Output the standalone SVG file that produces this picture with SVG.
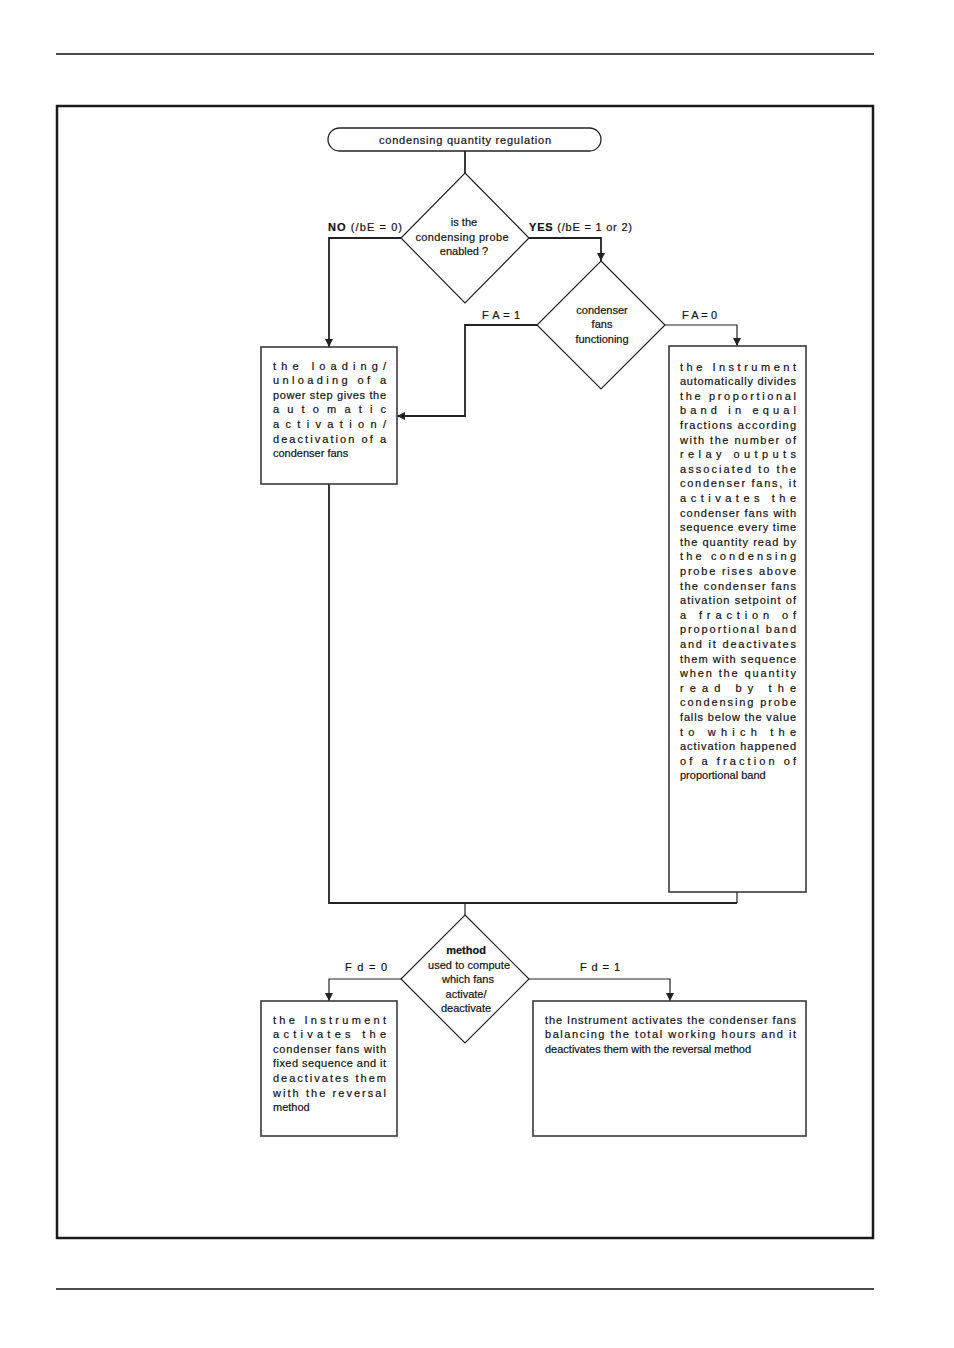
<svg xmlns="http://www.w3.org/2000/svg" width="954" height="1348" viewBox="0 0 954 1348">
<defs>
<marker id="arr" markerUnits="userSpaceOnUse" markerWidth="9" markerHeight="8" refX="8" refY="4" orient="auto">
<path d="M0,0 L8,4 L0,8 z" fill="#222"/>
</marker>
<style>
text{font-family:"Liberation Sans","DejaVu Sans",sans-serif;font-size:11px;fill:#111;stroke:#111;stroke-width:0.2}
.c{text-anchor:middle}
.b{font-weight:bold}
.box{fill:#fff;stroke:#3a3a3a;stroke-width:1.6}
.dia{fill:#fff;stroke:#222;stroke-width:1.2}
.ln{fill:none;stroke:#222;stroke-width:1.8}
.thin{fill:none;stroke:#222;stroke-width:1.2}
.lbl{font-size:11px}
</style>
</defs>
<rect width="954" height="1348" fill="#fff"/>
<line x1="56" y1="54" x2="874" y2="54" stroke="#111" stroke-width="1.5"/>
<line x1="56" y1="1289" x2="874" y2="1289" stroke="#111" stroke-width="1.5"/>
<rect x="57" y="106" width="816" height="1132" fill="none" stroke="#1a1a1a" stroke-width="2.5"/>

<g id="connectors">
<path class="ln" d="M465,151 V173"/>
<path class="ln" d="M401,238 H329 V347" marker-end="url(#arr)"/>
<path class="ln" d="M529,238 H601 V261" marker-end="url(#arr)"/>
<path class="ln" d="M537,325 H465 V416 H397" marker-end="url(#arr)"/>
<path class="thin" d="M665,325 H737 V346" marker-end="url(#arr)"/>
<path class="ln" d="M329,484 V903 H737"/>
<path class="thin" d="M737,892 V903"/>
<path class="thin" d="M465,903 V915"/>
<path class="thin" d="M401,979 H329 V1001" marker-end="url(#arr)"/>
<path class="thin" d="M529,979 H670 V1001" marker-end="url(#arr)"/>
<text class="lbl" x="328" y="231" textLength="74"><tspan class="b">NO</tspan> (/bE = 0)</text>
<text class="lbl" x="529" y="231" textLength="103"><tspan class="b">YES</tspan> (/bE = 1 or 2)</text>
<text class="lbl" x="482" y="319" textLength="38">F A = 1</text>
<text class="lbl" x="682" y="319" textLength="35">F A = 0</text>
<text class="lbl" x="345" y="971" textLength="42">F d = 0</text>
<text class="lbl" x="580" y="971" textLength="40">F d = 1</text>
</g>

<g id="start">
<rect x="328" y="128" width="273" height="23" rx="11.5" ry="11.5" fill="#fff" stroke="#222" stroke-width="1.3"/>
<text class="c" x="465" y="144" textLength="172">condensing quantity regulation</text>
</g>

<g id="d1">
<polygon class="dia" points="465,173 529,238 465,303 401,238"/>
<text class="c" x="464" y="226">is the</text>
<text class="c" x="462" y="241" textLength="93">condensing probe</text>
<text class="c" x="464" y="255">enabled ?</text>
</g>

<g id="d2">
<polygon class="dia" points="601,261 665,325 601,389 537,325"/>
<text class="c" x="602" y="314">condenser</text>
<text class="c" x="602" y="328">fans</text>
<text class="c" x="602" y="343">functioning</text>
</g>

<g id="boxL">
<rect class="box" x="261" y="347" width="136" height="137"/>
<text x="273" y="369.5" textLength="113">the loading/</text>
<text x="273" y="384.1" textLength="113">unloading of a</text>
<text x="273" y="398.7" textLength="113">power step gives the</text>
<text x="273" y="413.3" textLength="113">automatic</text>
<text x="273" y="427.9" textLength="113">activation/</text>
<text x="273" y="442.5" textLength="113">deactivation of a</text>
<text x="273" y="457.1">condenser fans</text>
</g>

<g id="boxR">
<rect class="box" x="669" y="346" width="137" height="546"/>
<text x="680" y="370.5" textLength="116">the Instrument</text>
<text x="680" y="385.1" textLength="116">automatically divides</text>
<text x="680" y="399.7" textLength="116">the proportional</text>
<text x="680" y="414.3" textLength="116">band in equal</text>
<text x="680" y="428.9" textLength="116">fractions according</text>
<text x="680" y="443.5" textLength="116">with the number of</text>
<text x="680" y="458.1" textLength="116">relay outputs</text>
<text x="680" y="472.7" textLength="116">associated to the</text>
<text x="680" y="487.3" textLength="116">condenser fans, it</text>
<text x="680" y="501.9" textLength="116">activates the</text>
<text x="680" y="516.5" textLength="116">condenser fans with</text>
<text x="680" y="531.1" textLength="116">sequence every time</text>
<text x="680" y="545.7" textLength="116">the quantity read by</text>
<text x="680" y="560.3" textLength="116">the condensing</text>
<text x="680" y="574.9" textLength="116">probe rises above</text>
<text x="680" y="589.5" textLength="116">the condenser fans</text>
<text x="680" y="604.1" textLength="116">ativation setpoint of</text>
<text x="680" y="618.7" textLength="116">a fraction of</text>
<text x="680" y="633.3" textLength="116">proportional band</text>
<text x="680" y="647.9" textLength="116">and it deactivates</text>
<text x="680" y="662.5" textLength="116">them with sequence</text>
<text x="680" y="677.1" textLength="116">when the quantity</text>
<text x="680" y="691.7" textLength="116">read by the</text>
<text x="680" y="706.3" textLength="116">condensing probe</text>
<text x="680" y="720.9" textLength="116">falls below the value</text>
<text x="680" y="735.5" textLength="116">to which the</text>
<text x="680" y="750.1" textLength="116">activation happened</text>
<text x="680" y="764.7" textLength="116">of a fraction of</text>
<text x="680" y="779.3">proportional band</text>
</g>

<g id="d3">
<polygon class="dia" points="465,915 529,979 465,1043 401,979"/>
<text class="c b" x="466" y="954">method</text>
<text class="c" x="469" y="968.5" textLength="82">used to compute</text>
<text class="c" x="468" y="983">which fans</text>
<text class="c" x="466" y="997.5">activate/</text>
<text class="c" x="466" y="1012">deactivate</text>
</g>

<g id="boxBL">
<rect class="box" x="261" y="1001" width="136" height="135"/>
<text x="273" y="1023.5" textLength="113">the Instrument</text>
<text x="273" y="1038.1" textLength="113">activates the</text>
<text x="273" y="1052.7" textLength="113">condenser fans with</text>
<text x="273" y="1067.3" textLength="113">fixed sequence and it</text>
<text x="273" y="1081.9" textLength="113">deactivates them</text>
<text x="273" y="1096.5" textLength="113">with the reversal</text>
<text x="273" y="1111.1">method</text>
</g>

<g id="boxBR">
<rect class="box" x="533" y="1001" width="273" height="135"/>
<text x="545" y="1023.5" textLength="251">the Instrument activates the condenser fans</text>
<text x="545" y="1038.1" textLength="251">balancing the total working hours and it</text>
<text x="545" y="1052.7">deactivates them with the reversal method</text>
</g>
</svg>
